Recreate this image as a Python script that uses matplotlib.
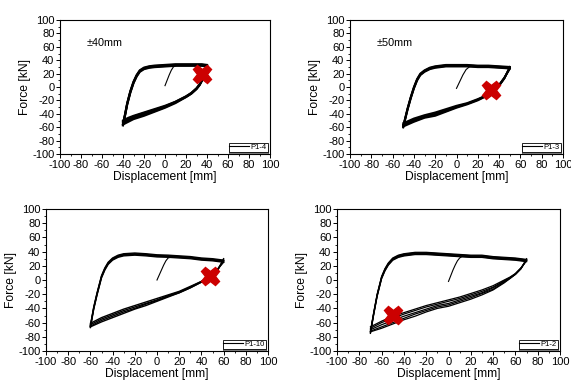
import numpy as np
import matplotlib
matplotlib.use('Agg')
import matplotlib.pyplot as plt
from matplotlib.ticker import MultipleLocator

plt.rcParams['font.family'] = ['Liberation Sans', 'DejaVu Sans']
plt.rcParams['axes.unicode_minus'] = False

# ---- data ----
# panel 1: P1-4, +-40mm
p1_up_x = [40, 35, 30, 20, 10, 0, -10, -15, -20, -24, -27, -30, -33, -36, -38, -40]
p1_up_y = [33, 34, 34, 34, 34, 33, 32, 31, 29, 25, 18, 8, -6, -24, -40, -55]
p1_up_shift = [0, -0.8, -1.6, -2.4]
p1_lo_x = [-40, -35, -30, -20, -10, 0, 10, 20, 25, 30, 33, 36, 40]
p1_lo_y = [[-50, -46, -43, -38, -33, -28, -22, -14, -9, -2, 4, 12, 28],
           [-52, -48, -44, -39, -34, -29, -22, -14, -9, -2, 4, 12, 29],
           [-54, -50, -46, -41, -36, -30, -23, -15, -10, -3, 3, 12, 31],
           [-56, -52, -48, -43, -37, -31, -24, -15, -10, -3, 3, 12, 32]]
p1_ini_x = [0, 2, 4, 6, 8, 12]
p1_ini_y = [2, 10, 18, 25, 30, 33]
p1_fail = (35, 20)

# panel 2: P1-3, +-50mm
p2_up_x = [50, 40, 30, 20, 10, 0, -10, -15, -20, -25, -30, -34, -37, -40, -43, -46, -50]
p2_up_y = [30, 31, 32, 32, 33, 33, 33, 32, 31, 29, 25, 20, 12, 0, -15, -32, -58]
p2_up_shift = [0, -0.8, -1.6, -2.4]
p2_lo_x = [-50, -40, -30, -20, -10, 0, 10, 20, 30, 35, 40, 45, 50]
p2_lo_y = [[-54, -47, -42, -38, -33, -28, -24, -18, -11, -5, 3, 14, 27],
           [-56, -49, -44, -40, -35, -29, -25, -19, -11, -5, 3, 14, 28],
           [-57, -51, -45, -41, -36, -30, -25, -19, -12, -6, 2, 13, 29],
           [-59, -52, -46, -43, -37, -31, -26, -20, -12, -6, 2, 13, 30]]
p2_ini_x = [0, 3, 6, 9, 12, 16]
p2_ini_y = [-2, 8, 18, 26, 30, 32]
p2_fail = (32, -5)

# panel 3: P1-10, +-60mm
p3_up_x = [60, 50, 40, 30, 20, 10, 0, -10, -20, -30, -35, -40, -44, -47, -50, -54, -57, -60]
p3_up_y = [28, 30, 31, 33, 34, 35, 35.5, 37, 38, 37, 35, 31, 25, 17, 6, -18, -38, -64]
p3_up_shift = [0, -1, -2, -3]
p3_lo_x = [-60, -50, -40, -30, -20, -10, 0, 10, 20, 30, 40, 45, 50, 55, 60]
p3_lo_y = [[-61, -53, -47, -41, -36, -31, -26, -21, -16, -9, -2, 3, 8, 16, 25],
           [-63, -55, -49, -43, -38, -33, -28, -22, -17, -10, -2, 3, 8, 16, 27],
           [-65, -57, -51, -45, -40, -34, -29, -23, -18, -11, -3, 2, 7, 15, 28],
           [-66, -59, -53, -47, -41, -36, -30, -24, -18, -11, -3, 2, 7, 15, 30]]
p3_ini_x = [0, 2, 4, 6, 8, 10, 14]
p3_ini_y = [0, 7, 14, 21, 27, 31, 33]
p3_fail = (48, 5)

# panel 4: P1-2, +-70mm
p4_up_x = [70, 60, 50, 40, 30, 20, 10, 0, -10, -20, -30, -40, -45, -50, -54, -57, -60, -64, -67, -70]
p4_up_y = [29, 31, 32, 33, 35, 35, 36, 37, 38, 39, 39, 37, 35, 31, 24, 16, 5, -20, -45, -72]
p4_up_shift = [0, -0.8, -1.6, -2.4, -3.2]
p4_lo_x = [-70, -60, -50, -40, -30, -20, -10, 0, 10, 20, 30, 40, 50, 55, 60, 65, 70]
p4_lo_y = [[-66, -58, -51, -46, -41, -36, -32, -28, -24, -19, -14, -8, 0, 4, 9, 17, 27],
           [-68, -60, -54, -48, -43, -38, -34, -30, -26, -21, -16, -10, -1, 3, 9, 17, 28],
           [-70, -63, -57, -51, -46, -41, -36, -33, -28, -23, -18, -11, -2, 3, 8, 16, 28],
           [-72, -66, -60, -54, -48, -43, -38, -35, -30, -25, -19, -13, -3, 2, 8, 16, 29],
           [-73, -68, -62, -56, -51, -45, -40, -37, -32, -27, -21, -14, -4, 2, 8, 16, 30]]
p4_ini_x = [0, 2, 4, 6, 8, 10, 12, 20]
p4_ini_y = [-2, 6, 14, 21, 27, 31, 33, 33]
p4_fail = (-50, -49)

panels = [
    (p1_up_x, p1_up_y, p1_up_shift, p1_lo_x, p1_lo_y, p1_ini_x, p1_ini_y, p1_fail, 'P1-4', '±40mm', 1.5),
    (p2_up_x, p2_up_y, p2_up_shift, p2_lo_x, p2_lo_y, p2_ini_x, p2_ini_y, p2_fail, 'P1-3', '±50mm', 1.4),
    (p3_up_x, p3_up_y, p3_up_shift, p3_lo_x, p3_lo_y, p3_ini_x, p3_ini_y, p3_fail, 'P1-10', None, 1.0),
    (p4_up_x, p4_up_y, p4_up_shift, p4_lo_x, p4_lo_y, p4_ini_x, p4_ini_y, p4_fail, 'P1-2', None, 0.9),
]

# axes boxes in pixels (left, top, right, bottom)
W, H = 571, 383
boxes = [(60, 20, 270, 154), (350, 20, 563, 154),
         (46, 209, 268, 351), (337, 209, 560, 351)]

fig = plt.figure(figsize=(W / 100, H / 100), dpi=100)

for (ux, uy, ush, lx, ly, ix, iy, fail, name, note, lw), b in zip(panels, boxes):
    l, t, r, bt = b
    ax = fig.add_axes([l / W, 1 - bt / H, (r - l) / W, (bt - t) / H])
    for s in ush:
        ax.plot(ux, np.array(uy) + s, color='k', lw=lw)
    for yy in ly:
        ax.plot(lx, yy, color='k', lw=lw)
    ax.plot(ix, iy, color='k', lw=0.8, label=name)
    ax.plot(*fail, marker='X', color='#cc0000', markersize=13, mec='#cc0000')

    ax.set_xlim(-100, 100)
    ax.set_ylim(-100, 100)
    ax.xaxis.set_major_locator(MultipleLocator(20))
    ax.yaxis.set_major_locator(MultipleLocator(20))
    ax.xaxis.set_minor_locator(MultipleLocator(10))
    ax.yaxis.set_minor_locator(MultipleLocator(10))
    ax.tick_params(which='major', direction='out', length=3, width=0.7,
                   labelsize=8, pad=1)
    ax.tick_params(which='minor', direction='out', length=1.5, width=0.6)
    for s in ax.spines.values():
        s.set_linewidth(0.8)
    ax.set_xlabel('Displacement [mm]', fontsize=8.7, labelpad=1)
    ax.set_ylabel('Force [kN]', fontsize=8.7, labelpad=1)
    if note:
        ax.text(-75, 66, note, fontsize=7.8, va='center')
    leg = ax.legend(loc='lower right', fontsize=5.5, frameon=True, fancybox=False,
                    handlelength=2.6, borderpad=0.1, borderaxespad=0.3,
                    handletextpad=0.2, shadow={'color': 'k', 'ox': 0, 'oy': -1.5})
    leg.get_frame().set_edgecolor('k')
    leg.get_frame().set_linewidth(0.6)

fig.savefig('out.png', dpi=100)
